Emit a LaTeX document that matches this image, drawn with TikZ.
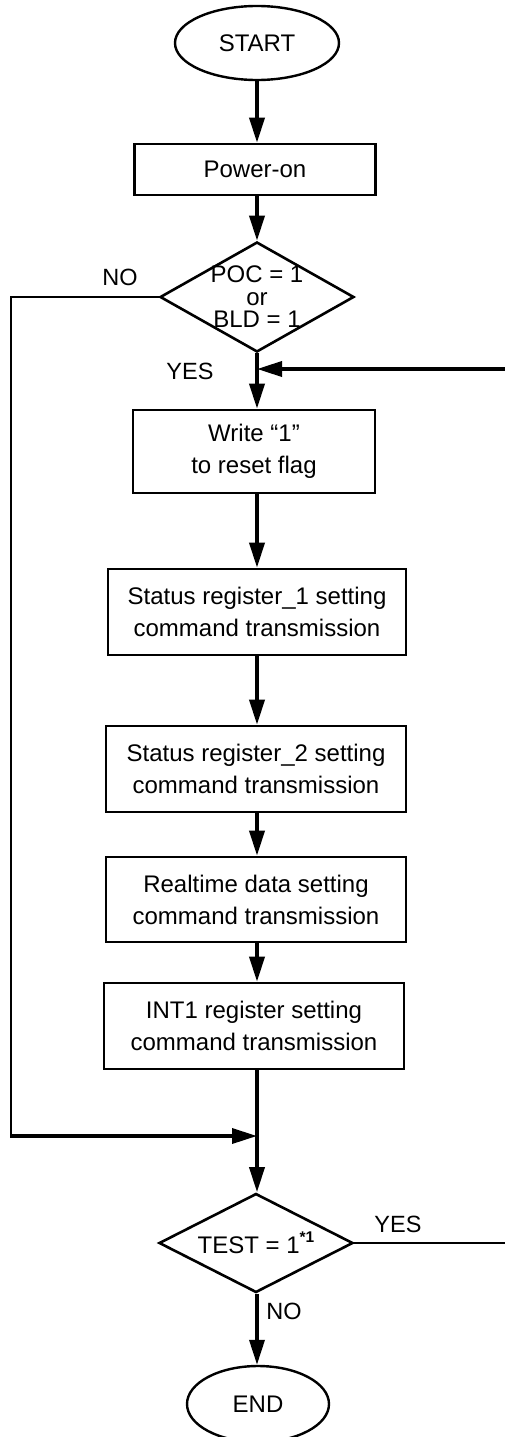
\documentclass[tikz,border=0pt]{standalone}
\usepackage{fontspec}
\setmainfont{Liberation Sans}
\usetikzlibrary{shapes.geometric,arrows.meta,calc}

\begin{document}
\begin{tikzpicture}[x=1pt,y=-1pt,
  txt/.style={font=\fontsize{24}{32}\selectfont, align=center, inner sep=0pt},
  procbox/.style={txt, draw, line width=2.6pt, line join=miter, rectangle,
                  minimum width=#1, minimum height=86pt},
  term/.style={txt, draw, line width=2.4pt, ellipse, minimum width=#1, minimum height=74pt},
  decision/.style={draw, line width=2.6pt, diamond, inner sep=0pt,
                   minimum width=194pt, minimum height=#1},
  flow/.style={line width=3.5pt, -{Triangle[length=25pt,width=15pt]}},
  plain/.style={line width=3.5pt},
  thin/.style={line width=2pt},
  lbl/.style={font=\fontsize{23.5}{26}\selectfont, inner sep=0pt}
]
\useasboundingbox (0,0) rectangle (504,1437);

% axis of the main flow
\coordinate (ax) at (257,0);

% terminals, steps and decisions
\node[term=164pt] (start) at (257,43) {START};
\node[procbox=241pt, minimum height=51pt] (pow) at (255,169.5) {Power-on};
\node[decision=110pt,
      label={[txt, font=\fontsize{24}{22.5}\selectfont]center:POC = 1\\or\\BLD = 1}]
      (poc) at (257,297) {};
\node[procbox=242pt, minimum height=83pt] (wr) at (254,451.5) {Write “1”\\to reset flag};
\node[procbox=298pt] (sr1) at (257,612) {Status register\_1 setting\\command transmission};
\node[procbox=300pt] (sr2) at (256,769) {Status register\_2 setting\\command transmission};
\node[procbox=300pt, minimum height=85pt] (rt) at (256,899.5) {Realtime data setting\\command transmission};
\node[procbox=300pt] (int) at (254,1026) {INT1 register setting\\command transmission};
\node[decision=99pt,
      label={[txt]center:TEST = 1\raisebox{11pt}{\fontsize{15.5}{15.5}\selectfont\bfseries *1}}]
      (test) at (256,1243) {};
\node[term=142pt, minimum height=76pt] (end) at (258,1404) {END};

% junctions and loop corners
\coordinate (join) at (257,369);
\coordinate (merge) at (257,1136);
\coordinate (nl) at (11,297);
\coordinate (rc) at (540,1243);

% branch labels
\node[lbl] at (120,277) {NO};
\node[lbl] at (190,371) {YES};
\node[lbl] at (398,1224) {YES};
\node[lbl] at (284,1311) {NO};

% main flow
\draw[flow] (start) -- (start |- pow.north);
\draw[flow] (ax |- pow.south) -- (poc.north);
\draw[flow] (poc.south) -- (ax |- wr.north);
\draw[flow] (ax |- wr.south) -- (ax |- sr1.north);
\draw[flow] (sr1.south) -- (ax |- sr2.north);
\draw[flow] (ax |- sr2.south) -- (ax |- rt.north);
\draw[flow] (ax |- rt.south) -- (ax |- int.north);
\draw[plain] (ax |- int.south) -- (merge);
\draw[flow] (merge) -- (ax |- test.north);
\draw[flow] (ax |- test.south) -- (ax |- end.north);

% NO branch of the first decision skips the setting steps
\draw[thin, line join=miter] (poc.west) -- (nl) -- (nl |- merge);
\draw[flow] ([xshift=-1pt]nl |- merge) -- (merge);

% YES branch of the test decision loops back
\draw[thin, line join=miter] (test.east) -- (rc) -- (rc |- join);
\draw[flow] (rc |- join) -- (join);
\end{tikzpicture}
\end{document}
